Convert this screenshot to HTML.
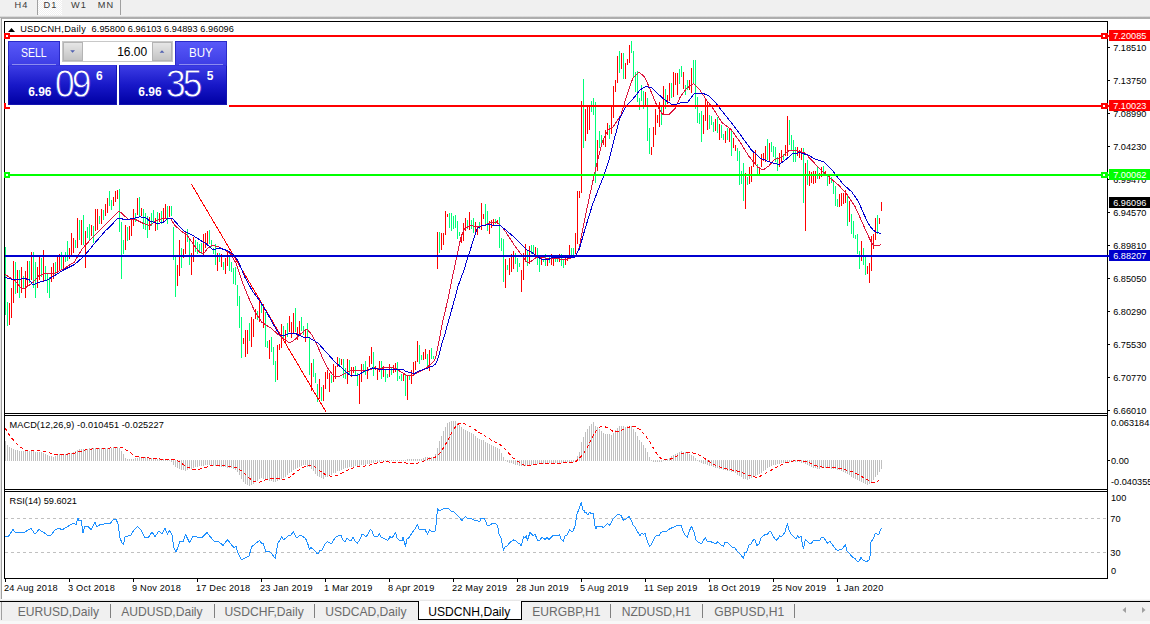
<!DOCTYPE html><html><head><meta charset="utf-8"><title>USDCNH,Daily</title><style>

html,body{margin:0;padding:0;}
body{width:1150px;height:624px;position:relative;overflow:hidden;background:#fff;font-family:"Liberation Sans",sans-serif;}
.a{position:absolute;white-space:nowrap;line-height:1;}
.t{position:absolute;white-space:nowrap;line-height:1;font-size:9.2px;color:#000;}
.pl{position:absolute;left:1109px;width:41px;height:11px;}
.pl span{position:absolute;left:4.2px;top:2px;font-size:9.2px;line-height:1;color:#fff;white-space:nowrap;}
.tab{position:absolute;top:605px;font-size:12.1px;line-height:14px;color:#6a6a6a;white-space:nowrap;}
.sep{position:absolute;top:604px;width:1px;height:14px;background:#808080;}

</style></head><body>
<div class="a" style="left:0;top:0;width:1150px;height:17px;background:#f0f0f0"></div>
<div class="a" style="left:0;top:16px;width:1150px;height:3px;background:linear-gradient(#f0f0f0,#a0a0a0 60%,#b8b8b8)"></div>
<div class="a" style="left:38px;top:0;width:24px;height:15px;background-color:#f0f0f0;background-image:linear-gradient(45deg,#fff 25%,transparent 25%,transparent 75%,#fff 75%),linear-gradient(45deg,#fff 25%,transparent 25%,transparent 75%,#fff 75%);background-size:2px 2px;background-position:0 0,1px 1px"></div>
<div class="a" style="left:37px;top:0;width:1px;height:15px;background:#a0a0a0"></div>
<div class="a" style="left:120px;top:0;width:1px;height:15px;background:#a0a0a0"></div>
<div class="a" style="left:14.5px;top:1px;font-size:9.2px;letter-spacing:1.1px;color:#383838">H4</div>
<div class="a" style="left:43.5px;top:1px;font-size:9.2px;letter-spacing:1.1px;color:#383838">D1</div>
<div class="a" style="left:71px;top:1px;font-size:9.2px;letter-spacing:1.1px;color:#383838">W1</div>
<div class="a" style="left:97.8px;top:1px;font-size:9.2px;letter-spacing:1.1px;color:#383838">MN</div>
<div class="a" style="left:0;top:18px;width:1px;height:606px;background:#e8e8e8"></div>
<div class="a" style="left:1px;top:18px;width:1px;height:581px;background:#a0a0a0"></div>
<div class="a" style="left:0;top:599px;width:1150px;height:2px;background:linear-gradient(#fff,#e0e0e0)"></div>
<div class="a" style="left:0;top:601px;width:1150px;height:1px;background:#000"></div>
<div class="a" style="left:0;top:602px;width:1150px;height:19px;background:#f0f0f0"></div>
<div class="a" style="left:0;top:621px;width:1150px;height:3px;background:#f8f8f8"></div>
<div class="a" style="left:1px;top:602px;width:1px;height:18px;background:#a0a0a0"></div>
<div class="a" style="left:418px;top:601px;width:102px;height:18px;background:#fff;border:1px solid #000;border-top:none"></div>
<div class="tab" style="left:17.7px">EURUSD,Daily</div>
<div class="tab" style="left:121.3px">AUDUSD,Daily</div>
<div class="tab" style="left:224.4px">USDCHF,Daily</div>
<div class="tab" style="left:325.2px">USDCAD,Daily</div>
<div class="tab" style="left:532.2px">EURGBP,H1</div>
<div class="tab" style="left:621.7px">NZDUSD,H1</div>
<div class="tab" style="left:714.3px">GBPUSD,H1</div>
<div class="tab" style="left:428.3px;color:#000">USDCNH,Daily</div>
<div class="sep" style="left:110px"></div>
<div class="sep" style="left:214px"></div>
<div class="sep" style="left:314px"></div>
<div class="sep" style="left:610px"></div>
<div class="sep" style="left:702px"></div>
<div class="sep" style="left:794px"></div>
<svg width="1150" height="624" viewBox="0 0 1150 624" style="position:absolute;left:0;top:0">
<path d="M5.5 247V315M7.5 302V326M15.5 262V294M19.5 270V298M23.5 276V288M29.5 261V283M33.5 252V288M35.5 262V298M41.5 258V277M45.5 266V281M47.5 274V293M49.5 277V298M55.5 262V275M61.5 252V270M65.5 252V262M67.5 241V261M75.5 240V248M79.5 220V240M83.5 215V245M87.5 227V238M89.5 224V240M93.5 226V243M99.5 216V224M103.5 210V220M109.5 191V206M111.5 200V210M119.5 189V232M121.5 222V279M123.5 240V254M127.5 227V241M135.5 213V222M139.5 197V216M143.5 209V229M145.5 213V230M147.5 216V238M151.5 213V226M153.5 210V222M157.5 212V230M161.5 211V224M167.5 206V224M171.5 206V216M173.5 227V260M175.5 257V297M181.5 248V268M187.5 229V242M189.5 238V265M195.5 240V252M197.5 242V254M199.5 244V253M201.5 243V254M209.5 230V244M211.5 240V247M213.5 248V254M215.5 244V265M219.5 253V262M223.5 262V270M229.5 257V271M231.5 262V272M233.5 268V284M235.5 267V285M237.5 285V306M239.5 296V328M241.5 317V358M249.5 323V341M257.5 311V320M261.5 304V313M265.5 312V347M267.5 341V348M271.5 337V352M273.5 347V365M275.5 361V382M283.5 326V340M287.5 323V337M295.5 308V332M301.5 317V331M303.5 326V335M307.5 323V337M309.5 338V375M313.5 359V377M315.5 373V383M317.5 384V402M321.5 387V401M331.5 375V383M339.5 358V365M343.5 359V378M345.5 368V379M349.5 360V375M355.5 366V375M357.5 373V386M363.5 364V373M365.5 361V375M373.5 352V376M381.5 361V379M385.5 370V382M387.5 374V378M391.5 367V375M397.5 362V381M399.5 376V379M401.5 374V381M405.5 375V396M409.5 376V380M419.5 345V364M421.5 355V360M427.5 354V367M431.5 348V359M433.5 356V359M439.5 232V253M449.5 213V228M451.5 213V231M453.5 216V229M455.5 215V228M457.5 221V239M459.5 232V236M467.5 220V229M471.5 220V229M473.5 218V233M479.5 222V229M485.5 204V225M487.5 211V231M495.5 219V224M499.5 217V248M501.5 238V251M503.5 239V282M507.5 265V270M515.5 253V264M517.5 258V272M519.5 263V267M527.5 251V266M531.5 245V254M533.5 245V253M537.5 248V265M539.5 258V272M543.5 259V262M545.5 254V266M549.5 257V263M555.5 258V262M557.5 258V262M561.5 254V266M563.5 260V268M571.5 248V257M573.5 248V256M583.5 79V148M591.5 101V112M593.5 98V115M595.5 102V183M599.5 131V148M601.5 135V147M609.5 125V139M619.5 51V73M623.5 53V79M631.5 41V53M633.5 51V77M635.5 72V92M637.5 71V102M639.5 98V110M641.5 85V101M643.5 91V109M647.5 98V141M649.5 128V154M661.5 106V125M665.5 89V109M671.5 83V98M679.5 69V84M681.5 66V77M685.5 85V95M687.5 80V90M693.5 60V84M695.5 60V109M697.5 97V123M699.5 113V124M701.5 111V142M709.5 115V129M711.5 116V125M713.5 122V132M717.5 117V133M721.5 125V138M723.5 134V140M727.5 128V140M731.5 130V156M737.5 148V161M739.5 151V185M741.5 171V184M743.5 163V201M747.5 177V185M757.5 164V174M767.5 139V160M771.5 142V152M773.5 146V157M775.5 147V162M777.5 157V171M783.5 154V160M789.5 120V145M791.5 135V151M793.5 140V162M795.5 147V162M803.5 148V203M807.5 160V185M817.5 167V179M823.5 166V176M827.5 176V186M831.5 177V183M833.5 182V194M835.5 186V206M837.5 199V207M847.5 195V226M851.5 214V234M853.5 221V238M855.5 235V239M857.5 234V254M859.5 251V269M863.5 248V265M865.5 256V275M877.5 215V234" stroke="#00ff78" stroke-width="1" fill="none" shape-rendering="crispEdges"/>
<path d="M9.5 303V325M11.5 288V318M13.5 261V303M17.5 270V293M21.5 267V293M25.5 271V298M27.5 261V286M31.5 252V280M37.5 267V288M39.5 257V280M43.5 250V282M51.5 267V282M53.5 263V279M57.5 257V274M59.5 254V271M63.5 257V268M69.5 248V259M71.5 233V256M73.5 238V253M77.5 218V248M81.5 220V245M85.5 231V268M91.5 225V236M95.5 209V231M97.5 209V230M101.5 209V224M105.5 204V216M107.5 198V213M113.5 197V206M115.5 191V202M117.5 190V199M125.5 225V250M129.5 226V240M131.5 218V236M133.5 209V226M137.5 198V215M141.5 208V216M149.5 217V230M155.5 218V231M159.5 213V222M163.5 208V222M165.5 204V218M169.5 206V217M177.5 265V286M179.5 240V276M183.5 249V258M185.5 231V254M191.5 253V275M193.5 237V262M203.5 234V257M205.5 233V248M207.5 231V245M217.5 253V271M221.5 254V267M225.5 258V274M227.5 250V266M243.5 338V344M245.5 330V357M247.5 330V354M251.5 317V347M253.5 319V337M255.5 309V319M259.5 301V322M263.5 304V328M269.5 340V359M277.5 345V380M279.5 344V350M281.5 324V348M285.5 330V344M289.5 316V332M291.5 322V338M293.5 313V333M297.5 327V340M299.5 321V336M305.5 330V342M311.5 363V391M319.5 379V399M323.5 385V401M325.5 372V389M327.5 370V379M329.5 373V392M333.5 364V382M335.5 366V379M337.5 357V367M341.5 359V365M347.5 359V384M351.5 367V377M353.5 367V373M359.5 375V404M361.5 364V382M367.5 367V379M369.5 356V367M371.5 347V364M375.5 366V370M377.5 368V380M379.5 361V372M383.5 366V377M389.5 364V377M393.5 365V373M395.5 363V372M403.5 373V381M407.5 375V400M411.5 370V384M413.5 362V376M415.5 361V370M417.5 341V362M423.5 352V360M425.5 349V359M429.5 350V371M437.5 232V269M441.5 233V250M443.5 233V245M445.5 211V235M447.5 214V217M461.5 234V243M463.5 223V241M465.5 218V231M469.5 212V230M475.5 222V233M477.5 227V235M481.5 203V230M483.5 214V219M489.5 221V234M491.5 220V228M493.5 219V225M497.5 220V224M505.5 259V288M509.5 258V275M511.5 254V272M513.5 251V269M521.5 270V292M523.5 253V280M525.5 244V262M529.5 246V264M535.5 247V259M541.5 258V265M547.5 258V266M551.5 254V265M553.5 258V266M559.5 254V262M565.5 258V265M567.5 257V261M569.5 245V259M575.5 233V254M577.5 191V244M579.5 191V198M581.5 101V193M585.5 109V141M587.5 106V134M589.5 106V130M597.5 140V171M603.5 139V145M605.5 130V147M607.5 123V135M611.5 105V134M613.5 86V118M615.5 80V92M617.5 56V83M621.5 53V69M625.5 63V79M627.5 59V65M629.5 45V63M645.5 92V106M651.5 147V155M653.5 127V147M655.5 109V135M657.5 115V123M659.5 102V127M663.5 86V114M667.5 95V104M669.5 83V101M673.5 72V97M675.5 73V85M677.5 73V95M683.5 72V89M689.5 80V90M691.5 68V93M703.5 115V134M705.5 98V121M707.5 102V130M715.5 119V131M719.5 124V140M725.5 131V143M729.5 128V142M733.5 138V148M735.5 145V151M745.5 173V209M749.5 167V184M751.5 166V182M753.5 153V167M755.5 150V165M759.5 167V174M761.5 154V167M763.5 153V161M765.5 146V162M769.5 143V161M779.5 153V167M781.5 150V163M785.5 145V156M787.5 116V156M797.5 147V156M799.5 150V158M801.5 148V160M805.5 163V231M809.5 171V186M811.5 172V183M813.5 171V184M815.5 171V183M819.5 173V179M821.5 167V177M825.5 171V176M829.5 176V184M839.5 194V207M841.5 193V206M843.5 193V204M845.5 190V203M849.5 201V222M861.5 241V261M867.5 266V274M869.5 263V283M871.5 236V271M873.5 234V249M875.5 218V240M879.5 218V224M881.5 202V211" stroke="#ff0000" stroke-width="1" fill="none" shape-rendering="crispEdges"/>
<path d="M191.2 183.8L326 412" stroke="#ff0000" stroke-width="1" fill="none" shape-rendering="crispEdges"/>
<path d="M5.0 274.4L15.4 281.0L21.8 289.0L25.6 287.7L33.0 282.5L38.5 276.0L45.0 273.6L54.0 273.6L64.0 268.5L74.4 262.0L82.0 249.0L92.3 237.7L102.6 227.4L112.8 217.0L119.0 210.8L123.0 214.6L128.0 219.0L136.0 219.7L143.6 223.6L150.0 225.6L155.0 221.0L163.0 218.5L170.6 218.5L174.5 225.0L181.0 231.0L187.0 235.0L192.4 242.8L199.0 251.8L203.5 253.8L207.8 248.0L212.0 245.4L218.0 246.7L224.5 249.7L231.0 254.4L236.0 263.3L242.4 282.5L248.8 298.0L255.0 312.0L262.0 322.5L270.4 327.7L278.8 335.0L285.0 340.0L290.0 343.0L295.4 339.0L301.7 333.0L307.0 329.0L312.0 335.0L317.3 345.4L322.5 358.0L327.7 368.0L334.0 376.7L339.0 376.7L345.4 373.5L351.7 370.0L360.0 370.4L368.0 370.4L374.6 368.0L382.0 368.5L384.0 367.0L390.6 367.5L396.6 369.0L400.8 371.8L406.0 375.0L412.0 375.4L415.9 373.5L420.7 370.9L425.5 368.5L430.0 364.9L433.9 361.0L435.7 357.6L437.5 349.0L439.9 337.0L442.0 324.6L448.5 297.0L452.7 275.8L457.0 255.6L461.0 237.0L464.5 228.7L470.4 225.3L477.0 227.0L483.9 225.3L490.6 222.8L496.5 222.0L500.7 225.3L505.8 232.0L514.0 244.7L521.0 254.0L526.0 261.5L528.5 263.0L531.9 260.7L536.0 257.6L544.5 258.0L554.6 258.0L564.7 259.8L571.4 258.0L575.6 256.0L578.0 251.4L580.0 243.8L581.8 234.0L586.9 208.8L592.0 185.0L597.0 163.0L602.5 141.0L607.9 130.0L613.0 127.0L620.9 115.0L627.4 93.4L632.8 78.3L639.0 72.0L644.7 77.0L650.0 89.0L656.6 105.0L663.0 115.0L669.6 114.0L675.0 108.6L680.4 96.7L686.9 88.0L693.4 83.7L699.9 90.0L706.4 100.0L714.0 109.7L721.7 122.4L730.7 129.0L739.7 141.5L748.7 156.0L757.6 167.0L763.0 170.0L768.8 166.0L774.5 159.5L782.0 157.0L789.0 150.5L795.8 150.5L804.7 152.7L811.5 160.0L820.5 169.6L829.4 177.4L838.4 185.0L846.0 193.0L855.0 206.5L862.0 222.0L868.5 236.4L872.0 243.5L873.8 245.6L878.0 246.0L880.8 244.4" stroke="#dc143c" stroke-width="1" fill="none" stroke-linejoin="round" shape-rendering="crispEdges"/>
<path d="M5.0 277.4L12.8 279.5L25.6 278.7L29.5 280.0L32.8 285.0L38.5 282.5L46.0 280.5L54.0 276.0L64.0 269.7L74.4 264.6L84.6 255.6L95.0 242.8L105.0 231.3L112.8 223.6L118.0 218.0L125.6 219.7L133.3 218.5L139.7 216.7L146.0 218.0L150.0 221.0L157.8 223.6L163.0 222.3L168.0 218.5L172.0 218.0L177.0 223.6L183.5 230.8L187.3 232.6L193.7 236.0L200.0 240.0L206.5 244.0L213.0 249.7L219.4 248.0L227.0 250.5L233.5 254.4L238.6 262.0L245.0 277.4L252.7 291.5L260.4 301.8L268.0 314.6L275.8 328.7L279.8 335.0L285.0 335.0L291.0 333.0L296.5 334.0L302.7 337.0L308.0 337.0L313.0 340.0L318.0 343.0L326.7 352.7L335.0 362.0L343.0 369.0L349.6 375.0L358.0 375.0L364.0 371.5L372.5 368.0L382.0 369.7L390.6 369.9L396.6 369.4L403.0 369.4L406.0 371.5L411.0 372.7L414.7 373.5L418.0 371.5L423.0 369.7L427.9 367.9L432.7 366.0L435.7 364.0L437.5 360.0L439.9 351.6L442.0 343.0L444.7 334.8L446.0 330.0L454.4 300.0L457.8 286.7L463.7 270.8L469.6 252.0L473.8 238.8L477.0 228.7L482.0 225.6L487.0 224.8L499.9 225.3L505.8 230.0L514.0 237.0L521.7 244.7L526.8 249.7L531.0 252.0L536.0 255.6L541.0 259.0L549.5 259.0L553.0 257.0L564.7 257.0L574.8 257.0L579.3 249.0L585.0 229.0L592.8 203.8L598.7 188.6L603.7 176.0L609.0 160.0L613.3 143.0L619.8 118.0L626.0 106.4L633.9 97.8L640.0 90.0L645.8 86.5L652.0 88.0L658.7 94.5L665.0 100.0L672.8 105.0L680.4 103.0L688.0 102.0L694.5 93.0L702.0 93.0L708.5 95.6L715.0 102.0L724.0 113.5L733.0 124.7L742.0 137.0L751.0 149.4L759.9 158.0L768.8 161.7L779.0 164.6L786.8 158.8L792.4 153.8L800.0 152.7L808.0 155.0L816.0 159.5L823.8 161.7L831.7 169.6L842.9 184.0L851.9 192.0L858.6 202.0L864.0 214.4L868.5 224.0L873.0 230.0L877.0 232.5L880.8 233.4" stroke="#0000d0" stroke-width="1" fill="none" stroke-linejoin="round" shape-rendering="crispEdges"/>
<rect x="5" y="35" width="1103" height="2" fill="#ff0000" shape-rendering="crispEdges"/>
<rect x="5" y="105" width="1103" height="2" fill="#ff0000" shape-rendering="crispEdges"/>
<rect x="5" y="174" width="1103" height="2" fill="#00ff00" shape-rendering="crispEdges"/>
<rect x="5" y="255" width="1103" height="2" fill="#0000d0" shape-rendering="crispEdges"/>
<path d="M5.5 441V461M7.5 445V461M9.5 447V461M11.5 448V461M13.5 449V461M15.5 450V461M17.5 450V461M19.5 451V461M21.5 451V461M23.5 451V461M25.5 451V461M27.5 451V461M29.5 451V461M31.5 451V461M33.5 451V461M35.5 452V461M37.5 452V461M39.5 452V461M41.5 452V461M43.5 453V461M45.5 454V461M47.5 455V461M49.5 456V461M51.5 456V461M53.5 457V461M55.5 456V461M57.5 455V461M59.5 454V461M61.5 454V461M63.5 454V461M65.5 454V461M67.5 453V461M69.5 453V461M71.5 453V461M73.5 452V461M75.5 451V461M77.5 450V461M79.5 449V461M81.5 449V461M83.5 449V461M85.5 449V461M87.5 449V461M89.5 448V461M91.5 448V461M93.5 448V461M95.5 448V461M97.5 448V461M99.5 448V461M101.5 448V461M103.5 448V461M105.5 448V461M107.5 448V461M109.5 448V461M111.5 448V461M113.5 447V461M115.5 447V461M117.5 447V461M119.5 448V461M121.5 451V461M123.5 454V461M125.5 458V461M127.5 459V461M129.5 459V461M131.5 459V461M133.5 459V461M135.5 458V461M137.5 458V461M139.5 457V461M141.5 457V461M143.5 457V461M145.5 457V461M147.5 457V461M149.5 458V461M151.5 458V461M153.5 458V461M155.5 458V461M157.5 459V461M159.5 459V461M161.5 459V461M163.5 459V461M165.5 460V461M167.5 460V461M169.5 460V461M171.5 460V462M173.5 460V465M175.5 460V467M177.5 460V468M179.5 460V469M181.5 460V470M183.5 460V470M185.5 460V471M187.5 460V470M189.5 460V469M191.5 460V469M193.5 460V468M195.5 460V467M197.5 460V467M199.5 460V466M201.5 460V466M203.5 460V466M205.5 460V465M207.5 460V465M209.5 460V465M211.5 460V465M213.5 460V466M215.5 460V466M217.5 460V466M219.5 460V467M221.5 460V467M223.5 460V467M225.5 460V467M227.5 460V468M229.5 460V468M231.5 460V468M233.5 460V469M235.5 460V470M237.5 460V472M239.5 460V475M241.5 460V479M243.5 460V482M245.5 460V484M247.5 460V485M249.5 460V486M251.5 460V485M253.5 460V484M255.5 460V482M257.5 460V481M259.5 460V479M261.5 460V478M263.5 460V479M265.5 460V480M267.5 460V480M269.5 460V481M271.5 460V481M273.5 460V482M275.5 460V482M277.5 460V481M279.5 460V480M281.5 460V479M283.5 460V478M285.5 460V477M287.5 460V475M289.5 460V473M291.5 460V472M293.5 460V470M295.5 460V469M297.5 460V468M299.5 460V467M301.5 460V466M303.5 460V465M305.5 460V465M307.5 460V467M309.5 460V467M311.5 460V469M313.5 460V471M315.5 460V474M317.5 460V476M319.5 460V477M321.5 460V478M323.5 460V479M325.5 460V477M327.5 460V477M329.5 460V475M331.5 460V475M333.5 460V473M335.5 460V473M337.5 460V471M339.5 460V471M341.5 460V470M343.5 460V469M345.5 460V468M347.5 460V468M349.5 460V467M351.5 460V467M353.5 460V467M355.5 460V466M357.5 460V466M359.5 460V466M361.5 460V465M363.5 460V465M365.5 460V465M367.5 460V464M369.5 460V464M371.5 460V463M373.5 460V463M375.5 460V462M377.5 460V462M379.5 460V462M381.5 460V461M383.5 460V461M385.5 460V461M387.5 460V461M389.5 460V461M391.5 460V461M393.5 460V461M395.5 460V461M397.5 460V461M399.5 460V461M401.5 460V461M403.5 460V461M405.5 460V461M407.5 459V461M409.5 459V461M411.5 459V461M413.5 459V461M415.5 459V461M417.5 459V461M419.5 459V461M421.5 459V461M423.5 458V461M425.5 457V461M427.5 457V461M429.5 457V461M431.5 457V461M433.5 458V461M435.5 454V461M437.5 448V461M439.5 441V461M441.5 436V461M443.5 431V461M445.5 427V461M447.5 423V461M449.5 422V461M451.5 421V461M453.5 421V461M455.5 421V461M457.5 423V461M459.5 425V461M461.5 427V461M463.5 429V461M465.5 430V461M467.5 431V461M469.5 432V461M471.5 433V461M473.5 434V461M475.5 436V461M477.5 438V461M479.5 439V461M481.5 440V461M483.5 440V461M485.5 442V461M487.5 443V461M489.5 444V461M491.5 445V461M493.5 446V461M495.5 447V461M497.5 448V461M499.5 449V461M501.5 453V461M503.5 457V461M505.5 460V461M507.5 460V462M509.5 460V463M511.5 460V463M513.5 460V464M515.5 460V465M517.5 460V465M519.5 460V466M521.5 460V466M523.5 460V466M525.5 460V466M527.5 460V465M529.5 460V465M531.5 460V465M533.5 460V464M535.5 460V464M537.5 460V464M539.5 460V464M541.5 460V464M543.5 460V464M545.5 460V464M547.5 460V464M549.5 460V463M551.5 460V463M553.5 460V463M555.5 460V463M557.5 460V463M559.5 460V463M561.5 460V463M563.5 460V463M565.5 460V463M567.5 460V462M569.5 460V462M571.5 460V462M573.5 460V462M575.5 460V462M577.5 456V461M579.5 452V461M581.5 442V461M583.5 437V461M585.5 432V461M587.5 429V461M589.5 426V461M591.5 424V461M593.5 422V461M595.5 426V461M597.5 427V461M599.5 429V461M601.5 431V461M603.5 433V461M605.5 434V461M607.5 434V461M609.5 434V461M611.5 435V461M613.5 433V461M615.5 430V461M617.5 428V461M619.5 426V461M621.5 426V461M623.5 426V461M625.5 427V461M627.5 426V461M629.5 426V461M631.5 426V461M633.5 429V461M635.5 432V461M637.5 436V461M639.5 440V461M641.5 442V461M643.5 445V461M645.5 448V461M647.5 452V461M649.5 457V461M651.5 460V461M653.5 460V462M655.5 460V462M657.5 460V462M659.5 460V462M661.5 460V462M663.5 460V461M665.5 460V461M667.5 459V461M669.5 458V461M671.5 456V461M673.5 455V461M675.5 454V461M677.5 453V461M679.5 452V461M681.5 451V461M683.5 452V461M685.5 452V461M687.5 453V461M689.5 454V461M691.5 455V461M693.5 456V461M695.5 458V461M697.5 460V461M699.5 460V462M701.5 460V463M703.5 460V464M705.5 460V464M707.5 460V465M709.5 460V466M711.5 460V466M713.5 460V467M715.5 460V468M717.5 460V468M719.5 460V469M721.5 460V469M723.5 460V470M725.5 460V470M727.5 460V471M729.5 460V471M731.5 460V472M733.5 460V472M735.5 460V473M737.5 460V475M739.5 460V476M741.5 460V477M743.5 460V479M745.5 460V479M747.5 460V480M749.5 460V479M751.5 460V478M753.5 460V477M755.5 460V476M757.5 460V475M759.5 460V474M761.5 460V473M763.5 460V471M765.5 460V470M767.5 460V468M769.5 460V467M771.5 460V466M773.5 460V465M775.5 460V465M777.5 460V464M779.5 460V464M781.5 460V463M783.5 460V463M785.5 460V462M787.5 460V462M789.5 460V462M791.5 460V462M793.5 460V462M795.5 460V462M797.5 460V462M799.5 460V462M801.5 460V463M803.5 460V463M805.5 460V464M807.5 460V465M809.5 460V466M811.5 460V467M813.5 460V468M815.5 460V468M817.5 460V469M819.5 460V469M821.5 460V468M823.5 460V468M825.5 460V468M827.5 460V468M829.5 460V468M831.5 460V469M833.5 460V469M835.5 460V469M837.5 460V470M839.5 460V470M841.5 460V471M843.5 460V472M845.5 460V473M847.5 460V474M849.5 460V475M851.5 460V477M853.5 460V478M855.5 460V479M857.5 460V480M859.5 460V481M861.5 460V482M863.5 460V483M865.5 460V484M867.5 460V485M869.5 460V484M871.5 460V483M873.5 460V480M875.5 460V477M877.5 460V475M879.5 460V472M881.5 460V469" stroke="#c0c0c0" stroke-width="1" fill="none" shape-rendering="crispEdges"/>
<path d="M5.0 428.0L10.0 436.0L15.0 442.0L20.0 447.0L25.0 450.0L35.0 450.4L45.0 451.6L55.0 454.4L65.0 454.4L75.0 453.0L85.0 450.0L95.0 448.6L110.0 448.0L122.0 447.6L128.0 451.0L135.0 456.0L145.0 457.6L160.0 459.0L175.0 459.6L180.0 462.0L185.0 466.0L192.0 469.0L200.0 469.0L210.0 466.0L220.0 465.0L228.0 466.0L236.0 467.6L242.0 471.0L248.0 477.0L254.0 481.6L259.0 482.4L266.0 479.6L272.0 478.4L278.0 478.6L284.0 479.6L290.0 477.0L296.0 472.0L302.0 467.6L308.0 465.4L314.0 466.4L320.0 471.0L326.0 475.0L332.0 476.6L338.0 475.0L344.0 472.0L350.0 469.0L356.0 467.0L362.0 466.4L368.0 465.6L374.0 463.6L380.0 462.4L386.0 461.6L392.0 462.4L400.0 462.4L410.0 463.4L417.0 463.4L422.0 462.0L428.0 459.0L435.0 457.6L440.0 453.0L444.0 447.0L448.0 440.0L452.0 432.0L456.0 426.0L459.0 423.6L464.0 423.4L470.0 426.4L476.0 430.4L482.0 434.4L488.0 438.0L494.0 441.6L500.0 444.4L506.0 450.0L512.0 457.0L518.0 461.6L524.0 465.0L530.0 465.4L536.0 464.4L544.0 463.4L556.0 463.4L568.0 462.6L576.0 461.6L580.0 457.6L584.0 453.0L588.0 446.0L592.0 438.0L596.0 431.0L600.0 427.0L604.0 426.4L609.0 428.4L614.0 432.0L620.0 431.0L626.0 428.4L631.0 426.4L635.0 426.4L640.0 429.6L645.0 435.0L650.0 442.0L655.0 451.0L659.0 457.0L663.0 459.6L668.0 460.0L674.0 457.6L680.0 454.4L686.0 452.6L692.0 452.6L698.0 454.4L704.0 458.0L710.0 462.0L716.0 465.6L722.0 467.6L728.0 469.4L734.0 470.4L740.0 471.6L746.0 474.4L752.0 476.4L757.0 477.4L763.0 475.0L769.0 471.4L775.0 468.0L781.0 465.0L787.0 462.4L793.0 461.0L800.0 460.6L806.0 461.4L812.0 464.0L818.0 466.4L824.0 467.4L830.0 467.4L836.0 468.0L842.0 469.0L848.0 470.6L854.0 472.4L860.0 475.6L866.0 479.0L871.0 482.0L875.0 482.0L879.0 480.6" stroke="#ff0000" stroke-width="1" fill="none" stroke-dasharray="3.5 2.5" shape-rendering="crispEdges"/>
<path d="M5 518.5H1107M5 552.5H1107" stroke="#c0c0c0" stroke-width="1" stroke-dasharray="3 3" fill="none" shape-rendering="crispEdges"/>
<path d="M5.0 536.0L8.0 537.0L13.0 529.6L16.0 533.0L20.0 532.6L25.0 532.0L28.0 530.0L31.0 528.6L35.0 534.0L39.0 529.6L43.0 532.0L48.0 535.6L51.0 535.0L55.0 530.0L59.0 528.0L62.0 530.0L66.0 527.6L70.0 525.0L74.0 523.0L76.0 524.6L78.0 518.0L79.0 521.0L81.0 520.0L83.0 532.6L85.0 526.0L88.0 526.6L91.0 529.6L95.0 522.6L97.0 527.0L100.0 524.6L104.0 524.0L110.0 523.6L113.0 520.0L116.0 519.0L118.0 524.0L120.0 538.0L122.0 543.0L123.5 544.6L125.0 537.0L128.0 536.0L131.0 535.0L134.0 530.0L137.5 526.4L141.0 530.0L145.0 537.6L148.0 538.0L152.0 532.0L155.0 536.4L159.0 531.0L162.0 534.0L165.0 528.4L167.5 534.0L169.5 530.6L172.0 535.0L174.0 548.0L176.0 552.0L178.0 547.0L180.0 541.6L183.0 542.0L185.5 534.6L189.5 542.4L193.0 536.4L197.0 537.0L202.0 537.6L207.0 532.4L210.0 536.4L214.0 541.0L219.0 542.0L223.0 545.4L227.6 539.6L231.0 544.0L234.0 548.0L236.0 546.0L238.0 553.0L241.6 560.0L245.0 558.0L249.0 556.0L251.6 547.0L256.0 543.0L259.6 540.6L262.0 544.0L263.0 543.0L266.0 552.0L269.0 551.0L271.0 553.0L275.4 558.4L277.6 544.0L281.6 537.0L283.6 540.0L288.0 536.0L291.0 535.0L293.4 531.4L296.0 537.0L298.0 537.0L300.0 535.4L302.0 536.0L305.6 538.6L307.6 543.0L309.6 550.0L311.0 547.6L314.0 550.0L317.6 554.0L319.6 551.0L322.0 550.0L325.0 544.0L327.6 541.6L330.0 543.0L332.0 543.0L335.0 538.0L337.6 536.0L341.0 535.6L343.0 540.0L345.0 542.0L347.0 538.0L349.0 540.0L351.0 540.4L353.0 537.6L355.0 541.0L357.4 543.4L360.0 539.0L362.0 534.6L364.0 535.0L366.0 537.0L368.0 534.0L370.4 529.4L372.0 531.0L373.6 536.0L376.0 537.0L378.0 536.0L379.4 533.6L381.0 537.0L383.0 538.0L386.0 539.6L388.0 540.4L390.0 536.6L392.0 538.0L394.0 535.0L395.6 532.4L397.0 538.0L399.0 540.0L402.0 541.0L403.0 537.0L405.4 546.4L407.0 539.0L409.0 537.6L412.0 533.0L415.0 529.0L417.4 524.4L419.0 529.0L421.0 530.0L423.0 529.0L425.0 529.6L427.6 534.4L429.6 529.6L431.0 531.0L435.4 531.0L436.4 522.0L437.4 508.4L439.0 510.4L441.0 510.0L444.0 508.4L448.0 508.4L451.0 511.0L454.0 512.0L458.0 516.0L462.0 520.4L465.4 516.4L468.0 519.0L471.0 518.6L474.0 520.0L477.0 520.4L479.4 522.0L481.0 518.4L484.6 518.6L487.4 526.0L490.0 525.0L493.0 523.0L495.6 523.4L497.6 526.0L499.0 534.0L501.0 538.0L503.6 550.4L505.0 547.0L507.0 546.0L510.0 542.4L513.4 540.0L516.0 541.0L518.0 543.0L520.0 544.0L521.4 546.0L523.6 536.4L525.0 538.0L526.4 536.0L527.4 540.4L530.0 532.4L533.0 535.6L535.0 534.0L537.6 540.4L540.0 540.0L542.0 537.4L545.0 539.4L547.0 537.6L549.0 539.4L553.0 535.4L557.0 536.0L559.6 534.6L561.0 539.0L563.4 541.4L565.0 536.0L567.0 535.0L569.6 530.0L571.0 531.0L573.0 531.0L575.0 526.0L577.0 514.0L579.0 509.0L581.4 502.4L582.6 510.0L584.0 510.0L585.0 512.4L586.0 512.0L587.6 515.0L589.6 512.4L591.0 513.4L593.6 513.4L594.4 524.0L596.0 529.0L597.0 526.0L600.0 526.0L603.4 527.4L607.6 523.4L610.0 525.4L613.0 519.0L617.6 514.4L621.0 515.4L623.4 520.4L626.0 519.0L629.4 516.4L632.0 522.0L633.0 525.0L635.4 527.6L637.0 531.0L639.0 534.0L640.0 535.4L642.0 533.0L643.6 534.6L645.0 533.0L646.4 538.6L648.0 543.0L649.6 546.4L651.6 544.0L654.6 537.4L657.0 535.0L659.0 536.0L660.6 533.0L663.0 531.6L667.0 531.0L670.0 528.6L673.0 527.4L677.0 525.4L681.0 525.4L683.0 531.0L685.0 535.0L687.4 537.4L689.0 532.0L691.4 526.0L694.0 532.0L696.0 540.0L698.0 542.0L701.4 544.0L703.6 540.0L705.4 537.6L707.0 541.0L710.0 541.6L713.0 542.4L715.6 544.0L717.6 542.0L719.0 543.0L721.0 545.0L723.6 546.4L725.0 542.4L727.0 542.0L729.0 544.0L732.0 547.0L735.0 548.0L737.0 551.0L739.0 553.0L741.0 555.0L743.4 558.4L745.0 552.0L746.6 552.6L749.0 545.0L751.0 544.0L753.6 539.6L755.0 540.0L757.0 545.4L759.0 544.0L761.0 538.0L763.0 536.0L765.0 534.6L767.0 535.0L769.6 531.4L771.0 532.0L773.0 536.0L775.0 539.0L777.0 540.4L779.6 535.6L781.0 536.6L783.0 535.0L785.0 532.0L787.4 523.4L789.0 530.0L791.0 534.0L793.6 536.6L795.6 539.0L797.6 536.0L799.0 538.0L801.0 536.4L802.0 542.0L803.4 548.4L805.4 539.6L807.0 541.0L809.6 543.4L811.6 543.0L813.6 540.4L816.0 540.4L819.6 540.4L821.6 537.4L824.0 538.0L826.0 541.0L827.6 543.4L830.0 541.4L832.0 544.0L834.0 547.0L836.0 549.4L838.0 550.4L840.0 549.6L842.0 549.0L843.6 547.0L845.4 544.4L847.0 551.0L849.0 553.0L851.0 555.4L853.0 557.6L855.0 558.4L857.0 561.0L859.0 561.4L861.0 557.6L863.0 560.0L865.0 561.0L867.0 561.4L869.0 560.0L870.0 556.0L871.0 542.0L873.0 539.0L875.4 533.4L877.0 534.0L879.0 534.4L880.0 531.0L881.4 528.4" stroke="#1e90ff" stroke-width="1" fill="none" stroke-linejoin="round" shape-rendering="crispEdges"/>
<path d="M4.5 21V579M1107.5 21V579M4 21.5H1108M4 413.5H1108M4 415.5H1108M4 489.5H1108M4 491.5H1108M4 578.5H1108" stroke="#000" stroke-width="1" fill="none" shape-rendering="crispEdges"/>
<rect x="5" y="414" width="1102" height="1" fill="#fff" shape-rendering="crispEdges"/>
<rect x="5" y="490" width="1102" height="1" fill="#fff" shape-rendering="crispEdges"/>
<rect x="4" y="35" width="1105" height="2" fill="#ff0000" shape-rendering="crispEdges"/>
<rect x="4" y="33" width="6" height="6" fill="#ff0000" shape-rendering="crispEdges"/>
<rect x="6" y="35" width="2" height="2" fill="#fff" shape-rendering="crispEdges"/>
<rect x="1101" y="33" width="7" height="6" fill="#ff0000" shape-rendering="crispEdges"/>
<rect x="1103" y="35" width="2" height="2" fill="#fff" shape-rendering="crispEdges"/>
<rect x="4" y="105" width="1105" height="2" fill="#ff0000" shape-rendering="crispEdges"/>
<rect x="4" y="103" width="6" height="6" fill="#ff0000" shape-rendering="crispEdges"/>
<rect x="6" y="105" width="2" height="2" fill="#fff" shape-rendering="crispEdges"/>
<rect x="1101" y="103" width="7" height="6" fill="#ff0000" shape-rendering="crispEdges"/>
<rect x="1103" y="105" width="2" height="2" fill="#fff" shape-rendering="crispEdges"/>
<rect x="4" y="174" width="1105" height="2" fill="#00ff00" shape-rendering="crispEdges"/>
<rect x="4" y="172" width="6" height="6" fill="#00ff00" shape-rendering="crispEdges"/>
<rect x="6" y="174" width="2" height="2" fill="#fff" shape-rendering="crispEdges"/>
<rect x="1101" y="172" width="7" height="6" fill="#00ff00" shape-rendering="crispEdges"/>
<rect x="1103" y="174" width="2" height="2" fill="#fff" shape-rendering="crispEdges"/>
<rect x="5" y="255" width="1104" height="2" fill="#0000d0" shape-rendering="crispEdges"/>
<path d="M1108 47.5H1110M1108 80.5H1110M1108 113.5H1110M1108 146.5H1110M1108 179.5H1110M1108 212.5H1110M1108 245.5H1110M1108 278.5H1110M1108 311.5H1110M1108 344.5H1110M1108 377.5H1110M1108 410.5H1110M1108 460.5H1110" stroke="#000" stroke-width="1" fill="none" shape-rendering="crispEdges"/>
<path d="M5.5 579V582M69.5 579V582M133.5 579V582M197.5 579V582M261.5 579V582M325.5 579V582M389.5 579V582M453.5 579V582M517.5 579V582M581.5 579V582M645.5 579V582M709.5 579V582M773.5 579V582M837.5 579V582" stroke="#000" stroke-width="1" fill="none" shape-rendering="crispEdges"/>
<path d="M8 32L11.5 28L15 32Z" fill="#000"/>
<path d="M1126 607L1122.5 610L1126 613Z" fill="#a0a0a0"/><path d="M1142 607L1145.5 610L1142 613Z" fill="#a0a0a0"/>
</svg>
<div class="t" style="left:20.2px;top:25px;letter-spacing:0.3px">USDCNH,Daily</div>
<div class="t" style="left:91.6px;top:25px;letter-spacing:0.06px">6.95800 6.96103 6.94893 6.96096</div>
<div class="t" style="left:9.5px;top:421px;letter-spacing:0.08px">MACD(12,26,9) -0.010451 -0.025227</div>
<div class="t" style="left:9.5px;top:497px">RSI(14) 59.6021</div>
<div class="t" style="left:1113.2px;top:43.5px">7.18510</div>
<div class="t" style="left:1113.2px;top:76.5px">7.13750</div>
<div class="t" style="left:1113.2px;top:109.5px">7.08990</div>
<div class="t" style="left:1113.2px;top:142.5px">7.04230</div>
<div class="t" style="left:1113.2px;top:175.5px">6.99470</div>
<div class="t" style="left:1113.2px;top:208.5px">6.94570</div>
<div class="t" style="left:1113.2px;top:241.5px">6.89810</div>
<div class="t" style="left:1113.2px;top:274.5px">6.85050</div>
<div class="t" style="left:1113.2px;top:307.5px">6.80290</div>
<div class="t" style="left:1113.2px;top:340.5px">6.75530</div>
<div class="t" style="left:1113.2px;top:373.5px">6.70770</div>
<div class="t" style="left:1113.2px;top:406.5px">6.66010</div>
<div class="t" style="left:1111px;top:418.6px">0.063184</div>
<div class="t" style="left:1111px;top:456.6px">0.00</div>
<div class="t" style="left:1111px;top:478.4px">-0.040355</div>
<div class="t" style="left:1111px;top:494.4px">100</div>
<div class="t" style="left:1110.3px;top:514.6px">70</div>
<div class="t" style="left:1110.3px;top:548.6px">30</div>
<div class="t" style="left:1111px;top:567.4px">0</div>
<div class="pl" style="top:30px;background:#ff0000"><span>7.20085</span></div>
<div class="pl" style="top:100px;background:#ff0000"><span>7.10023</span></div>
<div class="pl" style="top:169px;background:#00ff00"><span>7.00062</span></div>
<div class="pl" style="top:197px;background:#000"><span>6.96096</span></div>
<div class="pl" style="top:250px;background:#0000cc"><span>6.88207</span></div>
<div class="t" style="left:4px;top:584px;letter-spacing:0.2px">24 Aug 2018</div>
<div class="t" style="left:68px;top:584px;letter-spacing:0.2px">3 Oct 2018</div>
<div class="t" style="left:132px;top:584px;letter-spacing:0.2px">9 Nov 2018</div>
<div class="t" style="left:196px;top:584px;letter-spacing:0.2px">17 Dec 2018</div>
<div class="t" style="left:260px;top:584px;letter-spacing:0.2px">23 Jan 2019</div>
<div class="t" style="left:324px;top:584px;letter-spacing:0.2px">1 Mar 2019</div>
<div class="t" style="left:388px;top:584px;letter-spacing:0.2px">8 Apr 2019</div>
<div class="t" style="left:452px;top:584px;letter-spacing:0.2px">22 May 2019</div>
<div class="t" style="left:516px;top:584px;letter-spacing:0.2px">28 Jun 2019</div>
<div class="t" style="left:580px;top:584px;letter-spacing:0.2px">5 Aug 2019</div>
<div class="t" style="left:644px;top:584px;letter-spacing:0.2px">11 Sep 2019</div>
<div class="t" style="left:708px;top:584px;letter-spacing:0.2px">18 Oct 2019</div>
<div class="t" style="left:772px;top:584px;letter-spacing:0.2px">25 Nov 2019</div>
<div class="t" style="left:836px;top:584px;letter-spacing:0.2px">1 Jan 2020</div>
<div class="a" style="left:6px;top:39px;width:223px;height:68px;background:#fff"></div>
<div class="a" style="left:8px;top:41px;width:52px;height:25px;background:linear-gradient(#5858f8,#3c3ce4);border:1px solid #2a2ac8;border-bottom:none;box-sizing:border-box"></div>
<div class="a" style="left:175px;top:41px;width:52px;height:25px;background:linear-gradient(#5858f8,#3c3ce4);border:1px solid #2a2ac8;border-bottom:none;box-sizing:border-box"></div>
<div class="a" style="left:8px;top:65px;width:109px;height:40px;background:linear-gradient(#3c3ce4,#1818c8 50%,#0000a4);border:1px solid #1414b0;border-top-color:#3434dc;box-sizing:border-box"></div>
<div class="a" style="left:119px;top:65px;width:108px;height:40px;background:linear-gradient(#3c3ce4,#1818c8 50%,#0000a4);border:1px solid #1414b0;border-top-color:#3434dc;box-sizing:border-box"></div>
<div class="a" style="left:12px;top:64px;width:44px;height:1px;background:#8c8cf0"></div>
<div class="a" style="left:179px;top:64px;width:44px;height:1px;background:#8c8cf0"></div>
<div class="a" style="left:62px;top:41px;width:111px;height:21px;background:#fff;border:1px solid #c8c8c8;box-sizing:border-box"></div>
<div class="a" style="left:63px;top:42px;width:20px;height:19px;background:linear-gradient(#e6e6e6,#c4c4c4);border:1px solid #b4b4b4;box-sizing:border-box"></div>
<div class="a" style="left:152px;top:42px;width:20px;height:19px;background:linear-gradient(#e6e6e6,#c4c4c4);border:1px solid #b4b4b4;box-sizing:border-box"></div>
<svg class="a" style="left:0;top:0" width="240" height="110"><path d="M70.2 50.2H75L72.6 52.8Z" fill="#5060b0"/><path d="M159.6 52.8H164.4L162 50.2Z" fill="#5060b0"/></svg>
<div class="a" style="left:117.2px;top:45.5px;font-size:12px;color:#000">16.00</div>
<div class="a" style="left:20.5px;top:46.5px;font-size:12.2px;color:#fff;transform:scaleX(0.86);transform-origin:0 0">SELL</div>
<div class="a" style="left:188.6px;top:46.5px;font-size:12.2px;color:#fff;transform:scaleX(0.95);transform-origin:0 0">BUY</div>
<div class="a" style="left:28.2px;top:85.5px;font-size:12px;font-weight:bold;color:#fff">6.96</div>
<div class="a" style="left:54.5px;top:64.5px;font-size:38px;color:#fff;letter-spacing:-3px;transform:scaleX(0.93);transform-origin:0 0;-webkit-text-stroke:0.8px #2a2ad4">09</div>
<div class="a" style="left:96px;top:70px;font-size:12px;font-weight:bold;color:#fff">6</div>
<div class="a" style="left:138.3px;top:85.5px;font-size:12px;font-weight:bold;color:#fff">6.96</div>
<div class="a" style="left:165.8px;top:64.5px;font-size:38px;color:#fff;letter-spacing:-3px;transform:scaleX(0.93);transform-origin:0 0;-webkit-text-stroke:0.8px #2a2ad4">35</div>
<div class="a" style="left:206.7px;top:70px;font-size:12px;font-weight:bold;color:#fff">5</div>
</body></html>
